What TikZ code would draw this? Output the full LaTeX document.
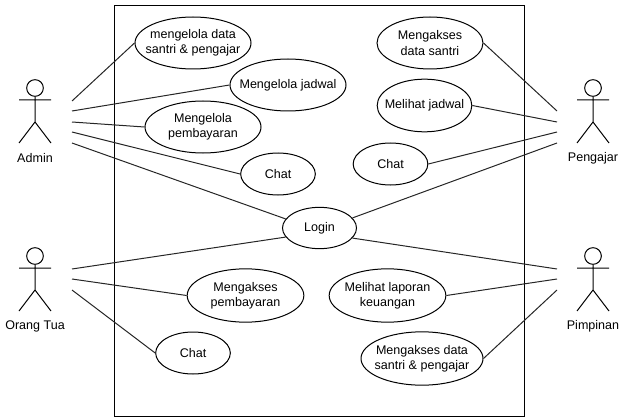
\documentclass[tikz,border=0pt]{standalone}
\usepackage{fontspec}
\setmainfont{Liberation Sans}
\usetikzlibrary{shapes.geometric}
\tikzset{
  every picture/.style={x=0.75pt,y=-0.75pt,line width=0.75pt},
  usecase/.style={draw,ellipse,inner sep=-18pt,align=center,font=\fontsize{9.4}{11.6}\selectfont},
  actorlabel/.style={font=\fontsize{9.4}{11}\selectfont,inner sep=0pt},
  actorhead/.style={draw,circle,minimum size=12.5pt,inner sep=0pt},
  assoc/.style={draw,line width=0.75pt,color=black!85}
}
\newcommand{\actorfig}[4]{%
  \node[actorhead] (#1head) at (#2,#3) {};
  \coordinate (#1hip) at (#2,#3+34);
  \coordinate (#1armL) at (#2-16,#3+12);
  \coordinate (#1armR) at (#2+16,#3+12);
  \coordinate (#1footL) at (#2-16,#3+55);
  \coordinate (#1footR) at (#2+16,#3+55);
  \draw (#1head) -- (#1hip) (#1armL) -- (#1armR) (#1footL) -- (#1hip) -- (#1footR);
  \node[actorlabel] (#1label) at (#2,#3+70) {#4};
}
\begin{document}
\begin{tikzpicture}
\useasboundingbox (0,0) rectangle (620,417);
\node[draw,minimum width=307.5pt,minimum height=307.5pt,inner sep=0pt] (frame) at (319,211) {};

\actorfig{admin}{35}{88}{Admin}
\actorfig{pengajar}{593}{88}{Pengajar}
\actorfig{ortu}{35}{256}{Orang Tua}
\actorfig{pimpinan}{593}{256}{Pimpinan}

\node[usecase,minimum width=87pt,minimum height=39pt] (u1) at (193,43) {mengelola data\\santri \& pengajar};
\node[usecase,minimum width=87pt,minimum height=39pt] (u2) at (288,85) {Mengelola jadwal};
\node[usecase,minimum width=87pt,minimum height=39pt] (u3) at (203,127) {Mengelola\\pembayaran};
\node[usecase,minimum width=56pt,minimum height=31.5pt] (u4) at (278,174) {Chat};
\node[usecase,minimum width=79.5pt,minimum height=39pt] (u5) at (430,43) {Mengakses\\data santri};
\node[usecase,minimum width=71pt,minimum height=39.5pt] (u6) at (424.5,105.5) {Melihat jadwal};
\node[usecase,minimum width=56pt,minimum height=31.5pt] (u7) at (390.5,164) {Chat};
\node[usecase,minimum width=55.5pt,minimum height=31pt] (login) at (319.5,228) {Login};
\node[usecase,minimum width=87.5pt,minimum height=40pt] (u8) at (245.5,295.5) {Mengakses\\pembayaran};
\node[usecase,minimum width=56pt,minimum height=31.5pt] (u9) at (193,353) {Chat};
\node[usecase,minimum width=87.5pt,minimum height=40pt] (u10) at (387.5,295.5) {Melihat laporan\\keuangan};
\node[usecase,minimum width=91.5pt,minimum height=40pt] (u11) at (422,358.5) {Mengakses data\\santri \& pengajar};

\coordinate (a1) at (72,101);
\coordinate (a2) at (72,111);
\coordinate (a3) at (72,122);
\coordinate (a4) at (72,132);
\coordinate (a5) at (72,143);
\coordinate (p1) at (557,111);
\coordinate (p2) at (557,122);
\coordinate (p3) at (557,132);
\coordinate (p4) at (557,143);
\coordinate (o1) at (72,269);
\coordinate (o2) at (72,279);
\coordinate (o3) at (72,290);
\coordinate (m1) at (557,269);
\coordinate (m2) at (557,279);
\coordinate (m3) at (557,290);

\draw[assoc] (a1) -- (u1.180);
\draw[assoc] (a2) -- (u2.180);
\draw[assoc] (a3) -- (u3.180);
\draw[assoc] (a4) -- (u4.180);
\draw[assoc] (a5) -- (login.165);
\draw[assoc] (p1) -- (u5.0);
\draw[assoc] (p2) -- (u6.0);
\draw[assoc] (p3) -- (u7.0);
\draw[assoc] (p4) -- (login.17);
\draw[assoc] (o1) -- (login.195);
\draw[assoc] (o2) -- (u8.180);
\draw[assoc] (o3) -- (u9.180);
\draw[assoc] (m1) -- (login.343);
\draw[assoc] (m2) -- (u10.0);
\draw[assoc] (m3) -- (u11.0);
\end{tikzpicture}
\end{document}
